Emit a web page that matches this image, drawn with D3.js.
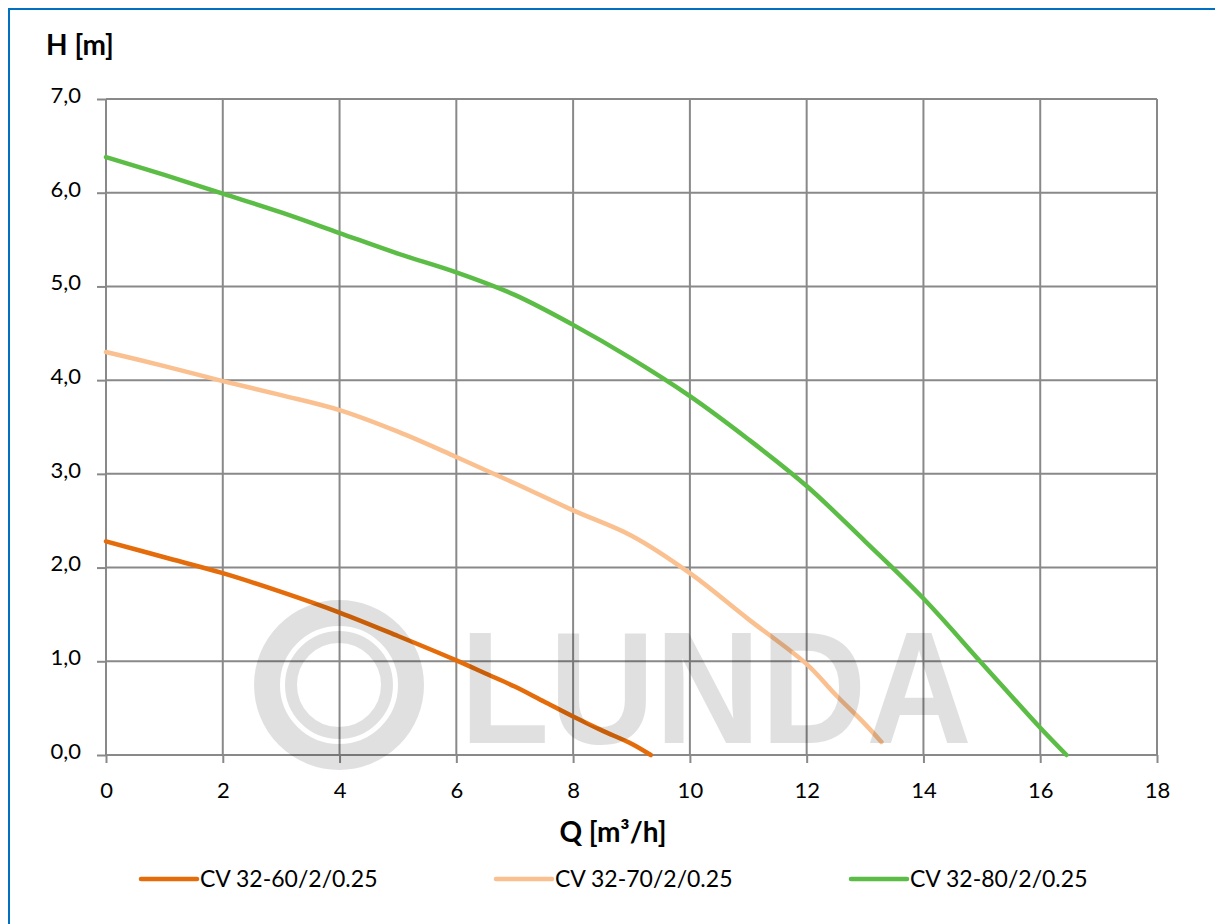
<!DOCTYPE html>
<html>
<head>
<meta charset="utf-8">
<script src="https://cdn.jsdelivr.net/npm/d3@7"></script>
<style>
  html, body { margin: 0; padding: 0; background: #ffffff; }
  svg { display: block; }
  text { font-family: Lato, "Open Sans", sans-serif; fill: #000; }
</style>
</head>
<body>
<svg id="chart" width="1215" height="924"></svg>
<script>
// ---------- data ----------
const seriesNames = ["CV 32-60/2/0.25", "CV 32-70/2/0.25", "CV 32-80/2/0.25"];
const seriesColors = ["#e46c0a", "#fac090", "#5cbd46"];

const q60 = [0, 1, 2, 3, 4, 5, 6, 6.5, 7, 7.5, 8, 8.5, 9, 9.33];
const h60 = [2.28, 2.11, 1.94, 1.74, 1.52, 1.27, 1.01, 0.87, 0.73, 0.57, 0.41, 0.26, 0.12, 0];

const q70 = [0, 1, 2, 3, 4, 5, 6, 7, 8, 9, 10, 11, 12, 12.5, 13, 13.28];
const h70 = [4.30, 4.15, 3.99, 3.84, 3.68, 3.45, 3.18, 2.90, 2.61, 2.34, 1.94, 1.45, 0.97, 0.64, 0.33, 0.14];

const q80 = [0, 1, 2, 3, 4, 5, 6, 7, 8, 9, 10, 11, 12, 13, 14, 15, 16, 16.45];
const h80 = [6.38, 6.19, 5.99, 5.79, 5.57, 5.35, 5.15, 4.91, 4.59, 4.23, 3.83, 3.37, 2.87, 2.28, 1.67, 0.98, 0.29, 0];

const xTicks = [0, 2, 4, 6, 8, 10, 12, 14, 16, 18];
const yTicks = [0, 1, 2, 3, 4, 5, 6, 7];
const yTickLabels = ["0,0", "1,0", "2,0", "3,0", "4,0", "5,0", "6,0", "7,0"];
const xTitle = "Q [m³/h]";
const yTitle = "H [m]";
const watermarkText = "LUNDA";

// ---------- layout ----------
const svg = d3.select("#chart");
const L = 106, R = 1157, T = 99, B = 755;
const x = d3.scaleLinear().domain([0, 18]).range([L, R]);
const y = d3.scaleLinear().domain([0, 7]).range([B, T]);
const gridColor = "#898989";

svg.append("rect").attr("width", 1215).attr("height", 924).attr("fill", "#fff");

// outer blue frame (extends beyond right/bottom edge)
svg.append("rect").attr("x", 9).attr("y", 9).attr("width", 1240).attr("height", 940)
  .attr("fill", "none").attr("stroke", "#0070c0").attr("stroke-width", 2);

// grid
const grid = svg.append("g");
grid.selectAll("line.h").data(yTicks).join("line")
  .attr("x1", L).attr("x2", R).attr("y1", d => y(d)).attr("y2", d => y(d))
  .attr("stroke", gridColor).attr("stroke-width", 2);
grid.selectAll("line.v").data(xTicks).join("line")
  .attr("y1", T).attr("y2", B).attr("x1", d => x(d)).attr("x2", d => x(d))
  .attr("stroke", gridColor).attr("stroke-width", 2);

// axes
const yAxis = svg.append("g").attr("transform", `translate(${L},0)`)
  .call(d3.axisLeft(y).tickValues(yTicks).tickSize(9).tickSizeOuter(0)
        .tickFormat((d, i) => yTickLabels[i]));
const xAxis = svg.append("g").attr("transform", `translate(0,${B})`)
  .call(d3.axisBottom(x).tickValues(xTicks).tickSize(8).tickSizeOuter(0)
        .tickFormat(d3.format("d")));
[yAxis, xAxis].forEach(g => {
  g.select(".domain").remove();
  g.selectAll(".tick line").attr("stroke", gridColor).attr("stroke-width", 2);
  g.selectAll(".tick text").style("font-family", "Lato, sans-serif")
    .style("font-size", "22px").attr("fill", "#000");
});
yAxis.selectAll(".tick text").attr("x", -25).attr("dy", "0.15em");
xAxis.selectAll(".tick text").attr("y", 43).attr("dy", 0);

// axis titles
svg.append("text").attr("x", 46).attr("y", 55)
  .style("font-size", "28px").style("font-weight", "bold").text(yTitle);
svg.append("text").attr("x", 613).attr("y", 842).attr("text-anchor", "middle")
  .style("font-size", "28px").style("font-weight", "bold").text(xTitle);

// series
const series = [
  q60.map((q, i) => [q, h60[i]]),
  q70.map((q, i) => [q, h70[i]]),
  q80.map((q, i) => [q, h80[i]])
];
const line = d3.line().x(d => x(d[0])).y(d => y(d[1])).curve(d3.curveCatmullRom.alpha(0.5));
svg.append("g").selectAll("path").data(series).join("path")
  .attr("d", line).attr("fill", "none")
  .attr("stroke", (d, i) => seriesColors[i]).attr("stroke-width", 4.5)
  .attr("stroke-linecap", "round").attr("stroke-linejoin", "round");

// watermark (semi-transparent, on top)
const wm = svg.append("g").attr("fill", "none").attr("stroke", "#000").attr("stroke-opacity", 0.12);
wm.append("circle").attr("cx", 339).attr("cy", 685).attr("r", 72).attr("stroke-width", 26);
wm.append("circle").attr("cx", 339).attr("cy", 685).attr("r", 48).attr("stroke-width", 12);
svg.append("text").attr("x", 460).attr("y", 743)
  .attr("textLength", 512).attr("lengthAdjust", "spacingAndGlyphs")
  .style("font-family", "'Liberation Sans', Arial, sans-serif")
  .style("font-size", "160px").style("font-weight", "bold")
  .attr("fill", "#000").attr("fill-opacity", 0.12).text(watermarkText);

// legend
const leg = svg.append("g").selectAll("g").data(seriesNames).join("g")
  .attr("transform", (d, i) => `translate(${141 + i * 355},879)`);
leg.append("line").attr("x1", 0).attr("x2", 56).attr("y1", 0).attr("y2", 0)
  .attr("stroke", (d, i) => seriesColors[i]).attr("stroke-width", 4.5)
  .attr("stroke-linecap", "round");
leg.append("text").attr("x", 59).attr("y", 8).style("font-size", "23px").text(d => d);
</script>
</body>
</html>
